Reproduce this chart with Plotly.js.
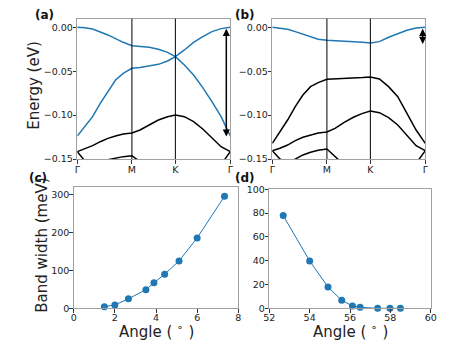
<!DOCTYPE html>
<html>
<head>
<meta charset="utf-8">
<script src="https://cdn.plot.ly/plotly-3.0.1.min.js"></script>
<style>html,body{margin:0;padding:0;background:#fff;}#plot{width:455px;height:342px;}</style>
</head>
<body>
<div id="plot"></div>
<script>
// k-path coordinate (Γ - M - K - Γ), fractional
const kpath = [0, 0.05, 0.1, 0.15, 0.2, 0.25, 0.3, 0.357, 0.41, 0.47, 0.53, 0.59, 0.641, 0.70, 0.76, 0.82, 0.88, 0.94, 1.0];
const kTickVals = [0, 0.357, 0.641, 1.0];
const kTickText = ['Γ', 'M', 'K', 'Γ'];

// Panel (a) bands (eV)
const aBlue1 = [0, -0.0004, -0.0019, -0.0049, -0.0087, -0.0129, -0.0171, -0.0209, -0.0216, -0.0228, -0.0251, -0.0285, -0.0334, -0.0429, -0.0543, -0.0687, -0.0847, -0.1018, -0.1238];
const aBlue2 = [-0.1238, -0.1132, -0.1018, -0.0866, -0.0725, -0.0600, -0.0524, -0.0467, -0.0459, -0.0444, -0.0422, -0.0384, -0.0334, -0.0258, -0.0171, -0.0106, -0.0049, -0.0015, 0];
const aBlack1 = [-0.1416, -0.1386, -0.1348, -0.1303, -0.1265, -0.1238, -0.1215, -0.1204, -0.1170, -0.1113, -0.1056, -0.1018, -0.0999, -0.1018, -0.1075, -0.1158, -0.1257, -0.1360, -0.1416];
const aBlack2 = [-0.1416, -0.1523, -0.1568, -0.1530, -0.1508, -0.1489, -0.1473, -0.1462, -0.1530, -0.1606, -0.1644, -0.1644, -0.1644, -0.1644, -0.1644, -0.1644, -0.1625, -0.1561, -0.1416];

// Panel (b) bands (eV)
const bBlue1 = [0, -0.0008, -0.0023, -0.0049, -0.0080, -0.0110, -0.0137, -0.0148, -0.0152, -0.0156, -0.0163, -0.0171, -0.0178, -0.0163, -0.0114, -0.0072, -0.0034, -0.0008, 0];
const bBlack1 = [-0.1322, -0.1189, -0.1056, -0.0904, -0.0771, -0.0676, -0.0630, -0.0592, -0.0589, -0.0585, -0.0581, -0.0573, -0.0566, -0.0589, -0.0676, -0.0790, -0.0980, -0.1170, -0.1322];
const bBlack2 = [-0.1405, -0.1378, -0.1341, -0.1291, -0.1253, -0.1227, -0.1204, -0.1192, -0.1151, -0.1082, -0.1025, -0.0980, -0.0953, -0.0972, -0.1029, -0.1113, -0.1234, -0.1348, -0.1405];
const bBlack3 = [-0.1405, -0.1500, -0.1549, -0.1500, -0.1454, -0.1424, -0.1401, -0.1386, -0.1473, -0.1568, -0.1644, -0.1644, -0.1644, -0.1644, -0.1644, -0.1644, -0.1600, -0.1549, -0.1405];

// Band-width arrows (k position, top, bottom)
const aArrow = {k: 0.974, top: 0, bottom: -0.1245};
const bArrow = {k: 0.983, top: 0, bottom: -0.019};

const energyTicks = [0, -0.05, -0.10, -0.15];
const energyTickText = ['0.00', '−0.05', '−0.10', '−0.15'];

// Panel (c)
const cAngle = [1.49, 2.0, 2.66, 3.51, 3.90, 4.42, 5.12, 6.0, 7.33];
const cWidth = [4.4, 8.8, 25, 49, 67, 89.5, 124.6, 185, 294.7];
const cXTicks = [0, 2, 4, 6, 8];
const cYTicks = [0, 100, 200, 300];

// Panel (d)
const dAngle = [52.69, 54.0, 54.91, 55.59, 56.12, 56.5, 57.37, 57.98, 58.5];
const dWidth = [77.9, 39.8, 17.9, 6.7, 2.0, 0.8, 0, 0, 0];
const dXTicks = [52, 54, 56, 58, 60];
const dYTicks = [0, 20, 40, 60, 80, 100];

// Titles and panel labels
const yTitleTop = 'Energy (eV)';
const yTitleBottom = 'Band width (meV)';
const xTitleBottom = 'Angle ( <sup>∘</sup> )';
const panelLabels = ['(a)', '(b)', '(c)', '(d)'];

const BLUE = '#1f77b4';
const FONT = 'DejaVu Sans, sans-serif';
const W = 455, H = 342;

function band(x, y, xa, ya, color) {
  return {x: x, y: y, xaxis: xa, yaxis: ya, mode: 'lines', type: 'scatter',
          line: {color: color, width: 1.5}, hoverinfo: 'skip', showlegend: false};
}

const traces = [
  band(kpath, aBlack2, 'x', 'y', 'black'),
  band(kpath, aBlack1, 'x', 'y', 'black'),
  band(kpath, aBlue1, 'x', 'y', BLUE),
  band(kpath, aBlue2, 'x', 'y', BLUE),
  band(kpath, bBlack3, 'x2', 'y2', 'black'),
  band(kpath, bBlack2, 'x2', 'y2', 'black'),
  band(kpath, bBlack1, 'x2', 'y2', 'black'),
  band(kpath, bBlue1, 'x2', 'y2', BLUE),
  {x: cAngle, y: cWidth, xaxis: 'x3', yaxis: 'y3', mode: 'lines+markers', type: 'scatter',
   line: {color: BLUE, width: 1}, marker: {color: BLUE, size: 7}, cliponaxis: false, showlegend: false},
  {x: dAngle, y: dWidth, xaxis: 'x4', yaxis: 'y4', mode: 'lines+markers', type: 'scatter',
   line: {color: BLUE, width: 1}, marker: {color: BLUE, size: 7}, cliponaxis: false, showlegend: false}
];

function dom(px0, px1) { return [px0 / W, px1 / W]; }
function vdom(py0, py1) { return [1 - py1 / H, 1 - py0 / H]; }

const axBase = {
  showline: true, mirror: true, linecolor: '#a0a0a0', linewidth: 1,
  ticks: 'outside', ticklen: 3.5, tickwidth: 1, tickcolor: '#333',
  showgrid: false, zeroline: false, ticklabelstandoff: -2,
  tickfont: {family: FONT, size: 9.5, color: '#222'}
};
function ax(extra) { return Object.assign({}, axBase, extra); }
const titleFont = {family: FONT, size: 15, color: '#222'};

const layout = {
  width: W, height: H,
  margin: {l: 0, r: 0, t: 0, b: 0},
  paper_bgcolor: '#fff', plot_bgcolor: '#fff',
  showlegend: false,
  xaxis: ax({domain: dom(77.3, 230.3), range: [0, 1], tickvals: kTickVals, ticktext: kTickText, anchor: 'y'}),
  yaxis: ax({domain: vdom(18.7, 159), range: [-0.15, 0.0098], tickvals: energyTicks, ticktext: energyTickText, anchor: 'x'}),
  xaxis2: ax({domain: dom(272.3, 425.3), range: [0, 1], tickvals: kTickVals, ticktext: kTickText, anchor: 'y2'}),
  yaxis2: ax({domain: vdom(18.7, 159), range: [-0.15, 0.0098], tickvals: energyTicks, ticktext: energyTickText, anchor: 'x2'}),
  xaxis3: ax({domain: dom(73.7, 238.3), range: [0, 8], tickvals: cXTicks, anchor: 'y3', ticklabelstandoff: -3}),
  yaxis3: ax({domain: vdom(187, 308.3), range: [0, 319], tickvals: cYTicks, anchor: 'x3'}),
  xaxis4: ax({domain: dom(269.3, 430.7), range: [52, 60], tickvals: dXTicks, anchor: 'y4', ticklabelstandoff: -3}),
  yaxis4: ax({domain: vdom(189.3, 308.3), range: [0, 100], tickvals: dYTicks, anchor: 'x4'}),
  shapes: [],
  annotations: []
};

// vertical lines at M and K
[['x', 'y'], ['x2', 'y2']].forEach(function (p) {
  [kTickVals[1], kTickVals[2]].forEach(function (kv) {
    layout.shapes.push({type: 'line', xref: p[0], yref: p[1] + ' domain', x0: kv, x1: kv, y0: 0, y1: 1,
                        line: {color: 'black', width: 1}});
  });
});

// double-headed arrows
[[aArrow, 'x', 'y'], [bArrow, 'x2', 'y2']].forEach(function (p) {
  const a = p[0];
  layout.annotations.push({x: a.k, y: a.bottom, ax: a.k, ay: a.top, xref: p[1], yref: p[2], axref: p[1], ayref: p[2],
    text: '', showarrow: true, arrowhead: 2, startarrowhead: 2, arrowside: 'end+start',
    arrowsize: 0.95, startarrowsize: 0.95, arrowwidth: 1.5, arrowcolor: 'black'});
});

// axis titles (placed precisely)
function title(text, px, py, angle) {
  layout.annotations.push({text: text, xref: 'paper', yref: 'paper', x: px / W, y: 1 - py / H,
    xanchor: 'center', yanchor: 'middle', showarrow: false, textangle: angle || 0, font: titleFont});
}
title(yTitleTop, 33.7, 86, -90);
title(yTitleBottom, 41.7, 245, -90);
title(xTitleBottom, 156.7, 330.5, 0);
title(xTitleBottom, 350.5, 330.5, 0);

// panel labels
[[panelLabels[0], 44, 15.5], [panelLabels[1], 245.3, 15.5], [panelLabels[2], 37.5, 178.3], [panelLabels[3], 245, 177.5]].forEach(function (p) {
  layout.annotations.push({text: '<b>' + p[0] + '</b>', xref: 'paper', yref: 'paper', x: p[1] / W, y: 1 - p[2] / H,
    xanchor: 'center', yanchor: 'middle', showarrow: false, font: {family: FONT, size: 12, color: '#111'}});
});

Plotly.newPlot('plot', traces, layout, {staticPlot: true, displayModeBar: false});
</script>
</body>
</html>
